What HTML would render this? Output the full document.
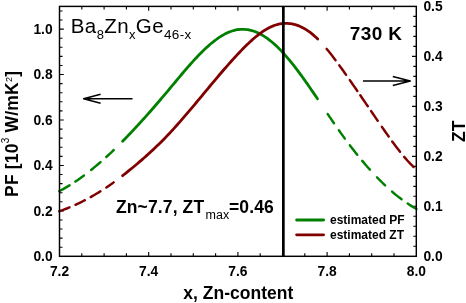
<!DOCTYPE html>
<html><head><meta charset="utf-8"><style>
html,body{margin:0;padding:0;background:#fff;}
svg{display:block;font-family:"Liberation Sans",sans-serif;will-change:transform;}
</style></head><body>
<svg width="466" height="303" viewBox="0 0 466 303">
<rect width="466" height="303" fill="#fff"/>
<path d="M81.80,256.30v-3.0 M81.80,6.40v3.0 M104.10,256.30v-3.0 M104.10,6.40v3.0 M126.40,256.30v-3.0 M126.40,6.40v3.0 M148.70,256.30v-4.3 M148.70,6.40v4.3 M171.00,256.30v-3.0 M171.00,6.40v3.0 M193.30,256.30v-3.0 M193.30,6.40v3.0 M215.60,256.30v-3.0 M215.60,6.40v3.0 M237.90,256.30v-4.3 M237.90,6.40v4.3 M260.20,256.30v-3.0 M260.20,6.40v3.0 M282.50,256.30v-3.0 M282.50,6.40v3.0 M304.80,256.30v-3.0 M304.80,6.40v3.0 M327.10,256.30v-4.3 M327.10,6.40v4.3 M349.40,256.30v-3.0 M349.40,6.40v3.0 M371.70,256.30v-3.0 M371.70,6.40v3.0 M394.00,256.30v-3.0 M394.00,6.40v3.0 M59.50,247.21h3.0 M59.50,238.13h3.0 M59.50,229.04h3.0 M59.50,219.95h3.0 M59.50,210.86h4.3 M59.50,201.78h3.0 M59.50,192.69h3.0 M59.50,183.60h3.0 M59.50,174.51h3.0 M59.50,165.43h4.3 M59.50,156.34h3.0 M59.50,147.25h3.0 M59.50,138.17h3.0 M59.50,129.08h3.0 M59.50,119.99h4.3 M59.50,110.90h3.0 M59.50,101.82h3.0 M59.50,92.73h3.0 M59.50,83.64h3.0 M59.50,74.55h4.3 M59.50,65.47h3.0 M59.50,56.38h3.0 M59.50,47.29h3.0 M59.50,38.21h3.0 M59.50,29.12h4.3 M59.50,20.03h3.0 M59.50,10.94h3.0 M416.30,246.30h-3.0 M416.30,236.31h-3.0 M416.30,226.31h-3.0 M416.30,216.32h-3.0 M416.30,206.32h-4.3 M416.30,196.32h-3.0 M416.30,186.33h-3.0 M416.30,176.33h-3.0 M416.30,166.34h-3.0 M416.30,156.34h-4.3 M416.30,146.34h-3.0 M416.30,136.35h-3.0 M416.30,126.35h-3.0 M416.30,116.36h-3.0 M416.30,106.36h-4.3 M416.30,96.36h-3.0 M416.30,86.37h-3.0 M416.30,76.37h-3.0 M416.30,66.38h-3.0 M416.30,56.38h-4.3 M416.30,46.38h-3.0 M416.30,36.39h-3.0 M416.30,26.39h-3.0 M416.30,16.40h-3.0" stroke="#000" stroke-width="1.1" fill="none"/>
<path d="M59.30,191.19 L61.00,190.28 L62.71,189.35 L64.41,188.40 L66.11,187.41 L67.81,186.40 L69.52,185.36 M75.37,181.59 L77.09,180.42 L78.81,179.23 L80.53,178.01 L82.25,176.76 L83.97,175.50 M91.12,169.97 L92.68,168.71 L94.25,167.42 L95.82,166.12 L97.38,164.80 L98.95,163.46 L100.52,162.11 M106.27,156.98 L108.14,155.27 L110.01,153.53 L111.88,151.77 L113.75,149.99 M327.68,113.98 L329.26,116.32 L330.85,118.65 L332.43,120.97 L334.01,123.27 M338.90,130.29 L340.89,133.09 L342.89,135.86 L344.88,138.60 M349.83,145.22 L351.68,147.65 L353.54,150.04 L355.39,152.40 L357.25,154.73 M362.27,160.85 L363.79,162.66 L365.32,164.45 L366.85,166.21 L368.37,167.95 L369.90,169.67 M377.02,177.33 L378.64,179.00 L380.27,180.64 L381.89,182.25 L383.52,183.83 L385.14,185.38 M392.08,191.66 L393.66,193.01 L395.24,194.32 L396.82,195.61 L398.40,196.86 L399.98,198.09 L401.56,199.28 M407.66,203.58 L409.43,204.74 L411.20,205.86 L412.96,206.93 L414.73,207.96 L416.50,208.95" stroke="#008000" stroke-width="2.45" stroke-linecap="round" fill="none"/>
<path d="M122.60,141.27 L124.11,139.74 L125.62,138.19 L127.13,136.64 L128.64,135.07 L130.15,133.48 L131.67,131.89 L133.18,130.29 L134.69,128.67 L136.20,127.04 L137.71,125.41 L139.22,123.76 L140.73,122.10 L142.24,120.43 L143.75,118.75 L145.26,117.07 L146.77,115.37 L148.28,113.67 L149.80,111.95 L151.31,110.23 L152.82,108.50 L154.33,106.76 L155.84,105.01 L157.35,103.26 L158.86,101.50 L160.37,99.73 L161.88,97.95 L163.39,96.17 L164.90,94.38 L166.41,92.58 L167.93,90.78 L169.44,88.98 L170.95,87.17 L172.46,85.35 L173.97,83.54 L175.48,81.73 L176.99,79.91 L178.50,78.11 L180.01,76.31 L181.52,74.52 L183.03,72.73 L184.54,70.96 L186.06,69.21 L187.57,67.46 L189.08,65.74 L190.59,64.03 L192.10,62.34 L193.61,60.68 L195.12,59.03 L196.63,57.42 L198.14,55.83 L199.65,54.27 L201.16,52.74 L202.68,51.24 L204.19,49.77 L205.70,48.35 L207.21,46.96 L208.72,45.60 L210.23,44.29 L211.74,43.03 L213.25,41.80 L214.76,40.63 L216.27,39.50 L217.78,38.42 L219.29,37.39 L220.81,36.42 L222.32,35.50 L223.83,34.63 L225.34,33.83 L226.85,33.08 L228.36,32.40 L229.87,31.78 L231.38,31.23 L232.89,30.74 L234.40,30.33 L235.91,29.98 L237.42,29.70 L238.94,29.50 L240.45,29.36 L241.96,29.30 L243.47,29.30 L244.98,29.38 L246.49,29.52 L248.00,29.73 L249.51,30.01 L251.02,30.36 L252.53,30.78 L254.04,31.27 L255.56,31.82 L257.07,32.44 L258.58,33.13 L260.09,33.88 L261.60,34.71 L263.11,35.59 L264.62,36.55 L266.13,37.56 L267.64,38.64 L269.15,39.78 L270.66,40.98 L272.17,42.23 L273.69,43.55 L275.20,44.91 L276.71,46.33 L278.22,47.80 L279.73,49.32 L281.24,50.88 L282.75,52.50 L284.26,54.16 L285.77,55.86 L287.28,57.60 L288.79,59.39 L290.30,61.21 L291.82,63.07 L293.33,64.97 L294.84,66.90 L296.35,68.86 L297.86,70.86 L299.37,72.88 L300.88,74.93 L302.39,77.01 L303.90,79.11 L305.41,81.24 L306.92,83.38 L308.43,85.55 L309.95,87.73 L311.46,89.93 L312.97,92.14 L314.48,94.36 L315.99,96.59 L317.50,98.83" stroke="#008000" stroke-width="2.8" stroke-linecap="round" fill="none"/>
<path d="M59.30,211.26 L60.99,210.66 L62.68,210.04 L64.37,209.40 L66.06,208.75 L67.75,208.07 L69.44,207.38 M75.45,204.77 L77.02,204.05 L78.59,203.32 L80.16,202.56 L81.74,201.79 L83.31,201.01 L84.88,200.20 M90.71,197.07 L92.33,196.16 L93.95,195.23 L95.57,194.28 L97.18,193.32 L98.80,192.33 L100.42,191.33 M106.37,187.47 L108.19,186.23 L110.01,184.97 L111.84,183.69 L113.66,182.38 M326.67,48.92 L328.45,51.09 L330.23,53.32 L332.02,55.60 L333.80,57.93 L335.58,60.29 M339.31,65.36 L341.01,67.70 L342.71,70.07 L344.40,72.45 L346.10,74.85 M349.80,80.12 L351.30,82.28 L352.80,84.44 L354.30,86.61 L355.81,88.78 L357.31,90.96 M360.29,95.30 L361.79,97.49 L363.30,99.68 L364.80,101.88 L366.31,104.08 L367.81,106.28 M371.09,111.08 L372.74,113.50 L374.40,115.93 L376.05,118.35 L377.71,120.76 M381.89,126.84 L383.59,129.29 L385.29,131.74 L386.99,134.16 L388.70,136.56 M392.21,141.45 L393.78,143.59 L395.35,145.69 L396.91,147.76 L398.48,149.80 L400.05,151.79 M404.17,156.83 L405.75,158.67 L407.33,160.46 L408.90,162.20 L410.48,163.87 L412.06,165.48 L413.64,167.03" stroke="#800000" stroke-width="2.45" stroke-linecap="round" fill="none"/>
<path d="M122.60,175.68 L124.10,174.50 L125.60,173.32 L127.10,172.12 L128.60,170.92 L130.10,169.70 L131.60,168.47 L133.11,167.23 L134.61,165.98 L136.11,164.72 L137.61,163.45 L139.11,162.17 L140.61,160.87 L142.11,159.57 L143.61,158.25 L145.11,156.93 L146.61,155.59 L148.11,154.24 L149.61,152.87 L151.11,151.50 L152.62,150.11 L154.12,148.71 L155.62,147.29 L157.12,145.86 L158.62,144.41 L160.12,142.94 L161.62,141.45 L163.12,139.94 L164.62,138.41 L166.12,136.86 L167.62,135.29 L169.12,133.70 L170.62,132.09 L172.13,130.46 L173.63,128.82 L175.13,127.16 L176.63,125.49 L178.13,123.80 L179.63,122.10 L181.13,120.39 L182.63,118.66 L184.13,116.93 L185.63,115.18 L187.13,113.42 L188.63,111.66 L190.13,109.89 L191.64,108.11 L193.14,106.32 L194.64,104.53 L196.14,102.73 L197.64,100.93 L199.14,99.13 L200.64,97.33 L202.14,95.52 L203.64,93.71 L205.14,91.90 L206.64,90.10 L208.14,88.29 L209.64,86.49 L211.15,84.69 L212.65,82.90 L214.15,81.11 L215.65,79.32 L217.15,77.54 L218.65,75.77 L220.15,74.01 L221.65,72.26 L223.15,70.51 L224.65,68.78 L226.15,67.05 L227.65,65.34 L229.15,63.65 L230.66,61.96 L232.16,60.29 L233.66,58.64 L235.16,57.00 L236.66,55.38 L238.16,53.77 L239.66,52.19 L241.16,50.62 L242.66,49.08 L244.16,47.55 L245.66,46.06 L247.16,44.59 L248.66,43.15 L250.17,41.75 L251.67,40.38 L253.17,39.05 L254.67,37.75 L256.17,36.50 L257.67,35.29 L259.17,34.13 L260.67,33.02 L262.17,31.95 L263.67,30.94 L265.17,29.99 L266.67,29.09 L268.17,28.25 L269.68,27.47 L271.18,26.75 L272.68,26.11 L274.18,25.53 L275.68,25.01 L277.18,24.57 L278.68,24.20 L280.18,23.89 L281.68,23.66 L283.18,23.49 L284.68,23.39 L286.18,23.36 L287.68,23.41 L289.19,23.52 L290.69,23.70 L292.19,23.95 L293.69,24.27 L295.19,24.66 L296.69,25.12 L298.19,25.66 L299.69,26.26 L301.19,26.93 L302.69,27.68 L304.19,28.49 L305.69,29.38 L307.19,30.34 L308.70,31.37 L310.20,32.47 L311.70,33.64 L313.20,34.88 L314.70,36.20 L316.20,37.58 L317.70,39.04" stroke="#800000" stroke-width="2.8" stroke-linecap="round" fill="none"/>
<line x1="283.35" y1="6.4" x2="283.35" y2="256.3" stroke="#000" stroke-width="2.7"/>
<rect x="59.5" y="6.4" width="356.80" height="249.90" stroke="#000" stroke-width="1.45" fill="none"/>
<path d="M83.6,98.8 H132.5 M100.6,94.3 L83.6,98.8 L100.6,103.3" stroke="#000" stroke-width="1.4" fill="none" stroke-linejoin="round"/>
<path d="M363,81 H410.3 M392.8,76.5 L410.3,81 L392.8,85.5" stroke="#000" stroke-width="1.4" fill="none" stroke-linejoin="round"/>
<text x="59.5" y="275.8" text-anchor="middle" font-size="13.8" font-weight="bold">7.2</text>
<text x="148.7" y="275.8" text-anchor="middle" font-size="13.8" font-weight="bold">7.4</text>
<text x="237.9" y="275.8" text-anchor="middle" font-size="13.8" font-weight="bold">7.6</text>
<text x="327.1" y="275.8" text-anchor="middle" font-size="13.8" font-weight="bold">7.8</text>
<text x="416.3" y="275.8" text-anchor="middle" font-size="13.8" font-weight="bold">8.0</text>
<text x="52.6" y="261.0" text-anchor="end" font-size="13.8" font-weight="bold">0.0</text>
<text x="52.6" y="215.6" text-anchor="end" font-size="13.8" font-weight="bold">0.2</text>
<text x="52.6" y="170.1" text-anchor="end" font-size="13.8" font-weight="bold">0.4</text>
<text x="52.6" y="124.7" text-anchor="end" font-size="13.8" font-weight="bold">0.6</text>
<text x="52.6" y="79.3" text-anchor="end" font-size="13.8" font-weight="bold">0.8</text>
<text x="52.6" y="33.8" text-anchor="end" font-size="13.8" font-weight="bold">1.0</text>
<text x="423.4" y="261.0" text-anchor="start" font-size="13.8" font-weight="bold">0.0</text>
<text x="423.4" y="211.0" text-anchor="start" font-size="13.8" font-weight="bold">0.1</text>
<text x="423.4" y="161.0" text-anchor="start" font-size="13.8" font-weight="bold">0.2</text>
<text x="423.4" y="111.1" text-anchor="start" font-size="13.8" font-weight="bold">0.3</text>
<text x="423.4" y="61.1" text-anchor="start" font-size="13.8" font-weight="bold">0.4</text>
<text x="423.4" y="11.1" text-anchor="start" font-size="13.8" font-weight="bold">0.5</text>
<text x="238.3" y="299.2" text-anchor="middle" font-size="17.5" font-weight="bold">x, Zn-content</text>
<text transform="translate(18.4,133.9) rotate(-90)" text-anchor="middle" font-size="17.5" font-weight="bold" letter-spacing="0.2">PF [10<tspan font-size="10" font-weight="normal" dy="-9.8">3</tspan><tspan dy="9.8"> W/mK</tspan><tspan font-size="9" font-weight="normal" dy="-6.1">2</tspan><tspan dy="6.1">]</tspan></text>
<text transform="translate(464.8,131.2) rotate(-90)" text-anchor="middle" font-size="17.5" font-weight="bold">ZT</text>
<text x="70.8" y="32.8" font-size="20.5" letter-spacing="0.38">Ba<tspan font-size="13" dy="6">8</tspan><tspan dy="-6">Zn</tspan><tspan font-size="13" dy="6">x</tspan><tspan dy="-6">Ge</tspan><tspan font-size="13.5" dy="6">46-x</tspan></text>
<text x="349.8" y="40.3" font-size="19" font-weight="bold" letter-spacing="0.35">730 K</text>
<text x="116" y="212.6" font-size="17.5" font-weight="bold" letter-spacing="0.12">Zn~7.7, ZT<tspan font-size="12.5" font-weight="normal" dx="1.2" dy="6">max</tspan><tspan dx="-0.4" dy="-6">=0.46</tspan></text>
<path d="M296.6,220 H323.6" stroke="#008000" stroke-width="2.8" stroke-linecap="round"/>
<path d="M296.6,234.8 H323.6" stroke="#800000" stroke-width="2.8" stroke-linecap="round"/>
<text x="330" y="224.2" font-size="12" font-weight="bold">estimated PF</text>
<text x="330" y="238.7" font-size="12" font-weight="bold">estimated ZT</text>
</svg>
</body></html>
